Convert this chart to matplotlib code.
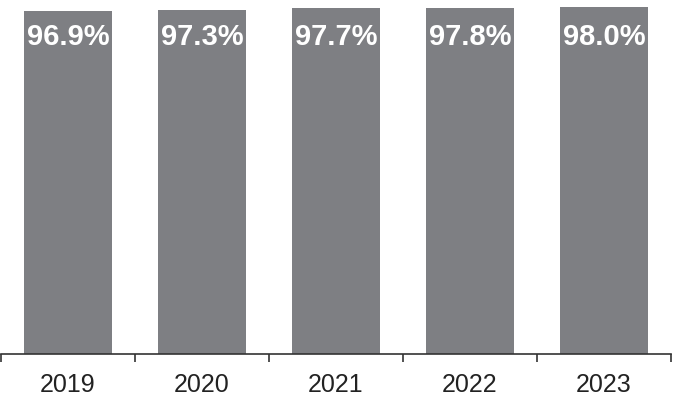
import numpy as np
import matplotlib.pyplot as plt

# values
years = ["2019", "2020", "2021", "2022", "2023"]
rates = [96.9, 97.3, 97.7, 97.8, 98.0]

bar_color = "#7e7f83"
plt.rcParams['font.family'] = ['Liberation Sans', 'DejaVu Sans']

fig = plt.figure(figsize=(6.73, 4.01), dpi=100)
ax = fig.add_axes([1 / 673, 47 / 401, 670 / 673, 354 / 401])

x = np.arange(len(years))
ax.bar(x, rates, width=0.65, color=bar_color)

# labels sit at the same height inside every bar
for xi, v in zip(x, rates):
    ax.text(xi, 87.2, f"{v:.1f}%", ha='center', va='baseline',
            color='white', fontsize=21, fontweight='bold')

ax.set_xlim(-0.5, len(years) - 0.5)
ax.set_ylim(0, 100)

# year labels centred, tick marks between categories
ax.set_xticks(x)
ax.set_xticklabels(years, fontsize=18, color='#222222')
ax.tick_params(axis='x', which='major', length=0, pad=14)
ax.set_xticks(np.arange(-0.5, len(years)), minor=True)
ax.tick_params(axis='x', which='minor', length=6, width=1.2, color='#333333')

ax.set_yticks([])
for s in ['top', 'right', 'left']:
    ax.spines[s].set_visible(False)
ax.spines['bottom'].set_color('#333333')
ax.spines['bottom'].set_linewidth(1.2)

fig.savefig("out.png", dpi=100)
